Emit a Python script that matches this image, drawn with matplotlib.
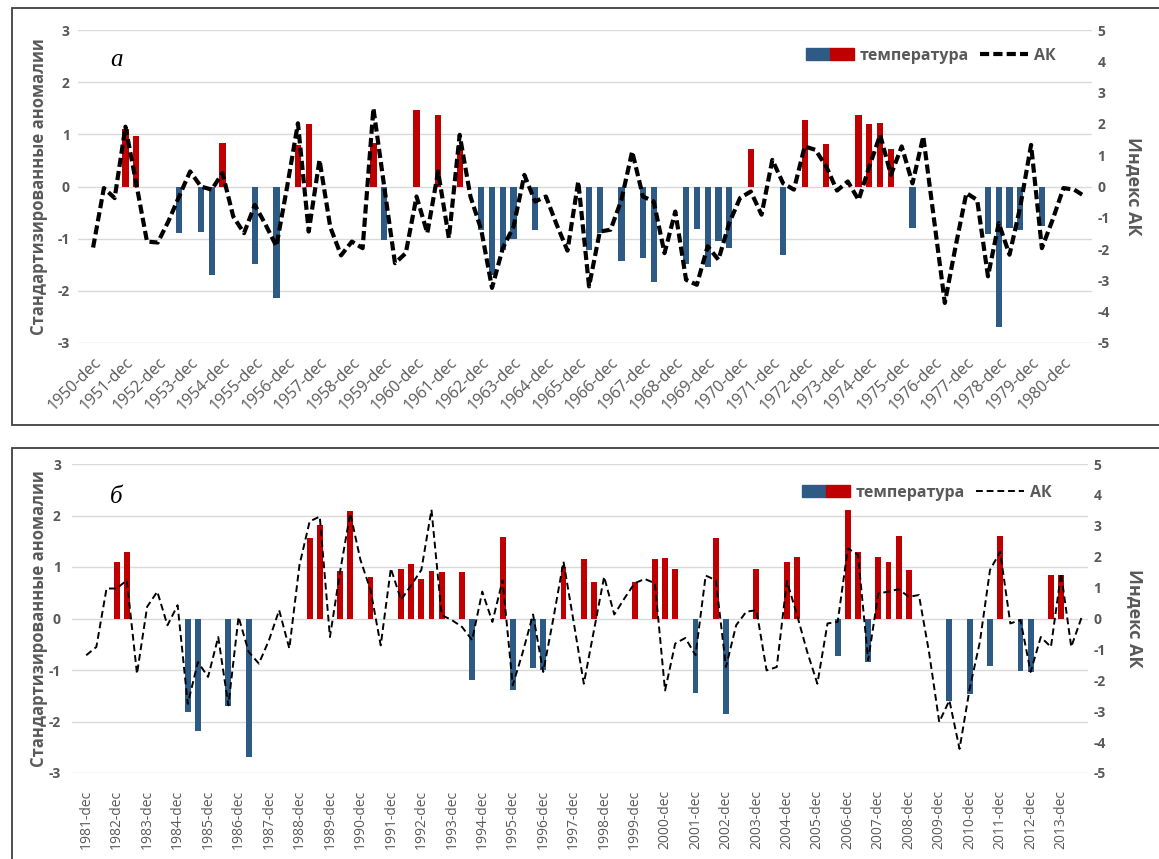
import numpy as np
import matplotlib
matplotlib.use("Agg")
import matplotlib.pyplot as plt
from matplotlib.patches import Rectangle, Patch
from matplotlib.lines import Line2D
from matplotlib.legend_handler import HandlerTuple

plt.rcParams['font.family'] = ['Open Sans', 'DejaVu Sans']
plt.rcParams['axes.unicode_minus'] = False

N = None
# ---- panel a (1950-dec ... 1981-feb), 3 winter months per year ----
years_a = list(range(1950, 1981))
temp_a = [N, N, N, 1.1, 0.97, N, N, N, -0.89, N,
          -0.87, -1.69, 0.84, N, N, -1.48, N, -2.13, N, 0.8,
          1.19, N, N, N, N, N, 0.83, -1.02, N, N,
          1.46, N, 1.37, N, 0.8, N, -0.83, -1.7, -1.21, -1.0,
          N, -0.83, N, N, N, N, -1.21, -0.89, N, -1.43,
          N, -1.37, -1.83, N, N, -1.48, -0.81, -1.54, -1.05, -1.17,
          N, 0.72, N, N, -1.32, N, 1.27, N, 0.81, N,
          N, 1.37, 1.19, 1.22, 0.72, N, -0.8, N, N, N,
          N, N, N, -0.92, -2.69, -0.8, -0.83, N, -0.76, N,
          N, N, N]
ak_a = [-1.95, -0.05, -0.37, 1.91, 0.1, -1.76, -1.79, -1.1, -0.3, 0.48,
        0.0, -0.1, 0.43, -0.96, -1.49, -0.59, -1.22, -1.91, 0.0, 2.02,
        -1.44, 0.85, -1.3, -2.2, -1.76, -1.97, 2.5, 0.0, -2.45, -2.13,
        -0.32, -1.49, 0.48, -1.65, 1.65, -0.32, -1.38, -3.24, -1.97, -1.28,
        0.37, -0.48, -0.32, -1.22, -2.05, 0.16, -3.19, -1.44, -1.38, -0.43,
        1.12, -0.32, -0.48, -2.13, -0.8, -2.98, -3.14, -1.91, -2.34, -1.17,
        -0.37, -0.16, -0.9, 0.85, 0.1, -0.1, 1.28, 1.17, 0.64, -0.13,
        0.16, -0.43, 0.64, 1.65, 0.37, 1.28, 0.1, 1.6, -1.06, -3.72,
        -1.91, -0.21, -0.43, -2.87, -1.17, -2.18, -0.64, 1.33, -1.97, -1.06,
        -0.05, -0.1, -0.32]

# ---- panel b (1981-dec ... 2014-feb) ----
years_b = list(range(1981, 2014))
temp_b = [N, N, N, 1.09, 1.29, N, N, N, N, N,
          -1.81, -2.18, N, N, -1.7, N, -2.69, N, N, N,
          N, N, 1.56, 1.82, N, 0.92, 2.09, N, 0.8, N,
          N, 0.97, 1.06, 0.77, 0.93, 0.9, N, 0.91, -1.2, N,
          N, 1.58, -1.38, N, -0.97, -1.0, N, 1.0, N, 1.15,
          0.71, N, N, N, 0.71, N, 1.16, 1.18, 0.97, N,
          -1.44, N, 1.57, -1.85, N, N, 0.97, N, N, 1.09,
          1.19, N, N, N, -0.73, 2.11, 1.3, -0.84, 1.2, 1.09,
          1.61, 0.95, N, N, N, -1.61, N, -1.46, N, -0.93,
          1.6, N, -1.01, -1.04, N, 0.84, 0.84, N, N]
ak_b = [-1.19, -0.92, 0.97, 0.97, 1.24, -1.79, 0.38, 0.87, -0.22, 0.43,
        -2.76, -1.41, -1.89, -0.6, -2.81, 0.05, -1.08, -1.46, -0.7, 0.27,
        -0.97, 1.73, 3.14, 3.3, -0.6, 1.52, 3.41, 1.9, 0.92, -0.87,
        1.62, 0.6, 1.08, 1.57, 3.52, 0.11, -0.05, -0.27, -0.7, 0.87,
        -0.11, 1.24, -2.16, -1.08, 0.13, -1.73, 0.0, 1.84, -0.11, -2.11,
        -0.38, 1.35, 0.13, 0.65, 1.14, 1.28, 1.14, -2.33, -0.81, -0.63,
        -1.19, 1.39, 1.24, -1.57, -0.22, 0.22, 0.27, -1.68, -1.57, 1.21,
        0.11, -1.08, -2.11, -0.16, -0.11, 2.27, 2.06, -1.35, 0.81, 0.87,
        0.95, 0.7, 0.76, -1.1, -3.35, -2.65, -4.22, -2.27, -0.76, 1.57,
        2.16, -0.16, -0.05, -1.73, -0.6, -0.92, 1.46, -0.92, 0.02]

labels_a = [f"{y}-dec" for y in years_a]
labels_b = [f"{y}-dec" for y in years_b]

BLUE = "#2E5B86"
RED = "#C00000"
GRAY = "#595959"
GRID = "#D9D9D9"

W, H = 1159, 859
fig = plt.figure(figsize=(W / 100, H / 100), dpi=100)


def frac(x0, x1, ytop, ybot):
    return [x0 / W, 1 - ybot / H, (x1 - x0) / W, (ybot - ytop) / H]


def panel(rect, temps, ak, labels, rot, lw, dashes, letter, leg_anchor,
          ylab_x, ylab2_x, letter_pos, lpad, xfs, xpad):
    ax = fig.add_axes(rect)
    n = len(temps)
    x = np.arange(n)
    vals = np.array([np.nan if v is None else v for v in temps], dtype=float)
    cols = [RED if (not np.isnan(v) and v > 0) else BLUE for v in vals]
    ax.bar(x, np.nan_to_num(vals), width=0.58, color=cols, zorder=2)
    ax.set_xlim(-1.4, n - 1 + 0.65)
    ax.set_ylim(-3, 3)
    ax.set_yticks(range(-3, 4))
    ax.yaxis.grid(True, color=GRID, lw=1.0, zorder=0)
    ax.set_axisbelow(True)
    for s in ax.spines.values():
        s.set_visible(False)
    ax.tick_params(length=0, colors=GRAY)
    ax.tick_params(axis='y', pad=lpad)
    for t in ax.get_yticklabels():
        t.set_fontweight('bold'); t.set_fontsize(10)
    ticks = np.arange(0, n, 3)[:len(labels)]
    ax.set_xticks(ticks)
    if rot == 45:
        ax.set_xticklabels(labels, rotation=45, ha='right', va='top',
                           rotation_mode='anchor', fontsize=xfs, color=GRAY)
    else:
        ax.set_xticklabels(labels, rotation=90, ha='center', va='top',
                           fontsize=xfs, color=GRAY)
    ax.tick_params(axis='x', pad=xpad)
    ax.set_ylabel("Стандартизированные аномалии", fontsize=12,
                  fontweight='bold', color=GRAY)
    ax.yaxis.set_label_coords(ylab_x, 0.5)

    ax2 = ax.twinx()
    ax2.plot(x, ak, color='black', lw=lw, ls=(0, dashes), zorder=3)
    ax2.set_ylim(-5, 5)
    ax2.set_yticks(range(-5, 6))
    for s in ax2.spines.values():
        s.set_visible(False)
    ax2.tick_params(length=0, colors=GRAY, pad=4)
    for t in ax2.get_yticklabels():
        t.set_fontweight('bold'); t.set_fontsize(10)
    ax2.set_ylabel("Индекс АК", fontsize=13, fontweight='bold', color=GRAY,
                   rotation=270, va='center')
    ax2.yaxis.set_label_coords(ylab2_x, 0.5)

    handles = [(Patch(color=BLUE), Patch(color=RED)),
               Line2D([], [], color='black', lw=lw, ls=(0, dashes))]
    leg = ax2.legend(handles, ["температура", "АК"], ncol=2, frameon=False,
                     loc='upper right', bbox_to_anchor=leg_anchor,
                     handler_map={tuple: HandlerTuple(ndivide=None, pad=0)},
                     handlelength=3.0, handletextpad=0.35, columnspacing=0.7,
                     prop={'weight': 'bold', 'size': 11.5})
    for t in leg.get_texts():
        t.set_color(GRAY)
    ax2.text(letter_pos[0], letter_pos[1], letter, transform=ax.transAxes,
             fontsize=18, fontstyle='italic', family='Liberation Serif',
             ha='center', va='center')
    return ax, ax2


panel(frac(78, 1092, 30, 343), temp_a, ak_a, labels_a, 45, 3.0, (2.2, 1.0),
      "a", (0.978, 0.99), -0.030, 1.041, (0.038, 0.905), 6, 11.5, 8)
panel(frac(72, 1088, 464, 773), temp_b, ak_b, labels_b, 90, 1.4, (3.5, 2.0),
      "б", (0.978, 0.98), -0.024, 1.046, (0.044, 0.893), 8, 10, 12)

# panel frames
fig.add_artist(Rectangle((12 / W, 1 - 425 / H), (1160 - 12) / W, (425 - 8) / H,
                         transform=fig.transFigure, fill=False,
                         ec="#404040", lw=1.3))
fig.add_artist(Rectangle((12 / W, -0.02), (1160 - 12) / W, 1 - 448 / H + 0.02,
                         transform=fig.transFigure, fill=False,
                         ec="#404040", lw=1.3))

fig.savefig("out.png", dpi=100)
